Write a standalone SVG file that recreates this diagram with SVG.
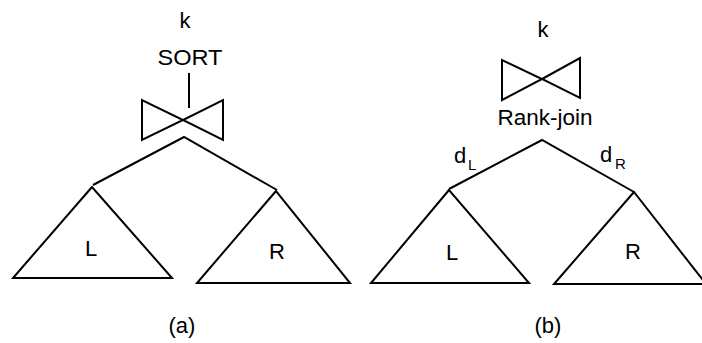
<svg xmlns="http://www.w3.org/2000/svg" width="702" height="343" viewBox="0 0 702 343">
<style>
.s{fill:none;stroke:#000;stroke-width:2;stroke-linejoin:miter}
.t{font-family:"Liberation Sans",Arial,sans-serif;font-size:22px;fill:#000;text-anchor:middle}
.sub{font-size:15px;text-anchor:start}
</style>
<rect width="702" height="343" fill="#fff"/>
<g id="connectors">
<line class="s" x1="189" y1="73" x2="189" y2="108"/>
<polyline class="s" points="93,185 184,137 277,190"/>
<polyline class="s" points="449,189 542,140 634,192"/>
</g>
<g id="a-k"><text class="t" x="185" y="28">k</text></g>
<g id="a-sort"><text class="t" x="190" y="65" textLength="65" lengthAdjust="spacingAndGlyphs">SORT</text></g>
<g id="a-op"><polygon class="s" points="142,100 142,140 183,120"/><polygon class="s" points="223,100 223,140 183,120"/></g>
<g id="a-L"><polygon class="s" points="92,187 13,278 172,278"/><text class="t" x="91" y="256">L</text></g>
<g id="a-R"><polygon class="s" points="276,191 197,283 350,283"/><text class="t" x="277" y="259">R</text></g>
<g id="a-label"><text class="t" x="182" y="333">(a)</text></g>
<g id="b-k"><text class="t" x="543" y="37">k</text></g>
<g id="b-op"><polygon class="s" points="502,60 502,100 542,79"/><polygon class="s" points="580,58 580,98 542,79"/><text class="t" x="545" y="125" textLength="95" lengthAdjust="spacingAndGlyphs">Rank-join</text></g>
<g id="b-dL"><text class="t" x="460" y="163">d</text><text class="t sub" x="468" y="170">L</text></g>
<g id="b-dR"><text class="t" x="606" y="162">d</text><text class="t sub" x="615" y="169">R</text></g>
<g id="b-L"><polygon class="s" points="449,190 371,283 529,283"/><text class="t" x="452" y="260">L</text></g>
<g id="b-R"><polygon class="s" points="634,192 554,284 706,284"/><text class="t" x="633" y="259">R</text></g>
<g id="b-label"><text class="t" x="548" y="333">(b)</text></g>
</svg>
